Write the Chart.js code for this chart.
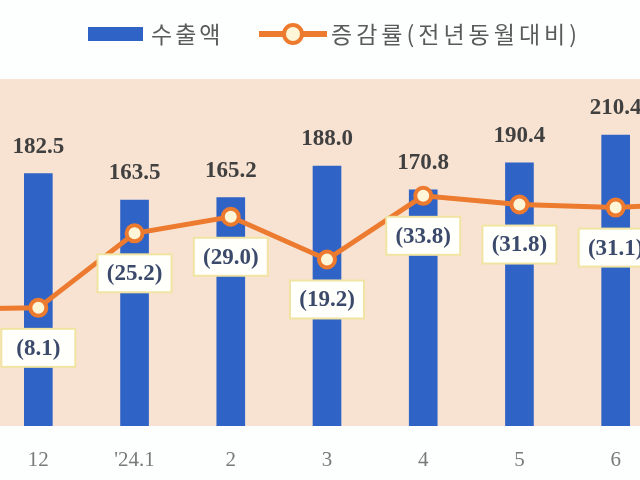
<!DOCTYPE html>
<html>
<head>
<meta charset="utf-8">
<script src="https://cdn.jsdelivr.net/npm/chart.js@4.4.1/dist/chart.umd.min.js"></script>
<style>
  html, body { margin: 0; padding: 0; background: #fcfffe; }
  #wrap { position: relative; width: 640px; height: 480px; overflow: hidden; }
  #chart { position: absolute; left: -106px; top: 0; }
  .lg { position: absolute; font-family: "Noto Sans CJK KR", sans-serif; color: #5a5a5a; font-size: 23px; line-height: 1; }
  .lg-bar { position: absolute; left: 88px; top: 27px; width: 55px; height: 14px; background: #2f63c6; }
  .lg-line { position: absolute; left: 259px; top: 31px; width: 68px; height: 6px; background: #ec7a2f; }
  .lg-dot { position: absolute; left: 282px; top: 23px; width: 14px; height: 14px; border: 4px solid #ec7a2f; border-radius: 50%; background: #fff6d8; }
</style>
</head>
<body>
<div id="wrap">
  <canvas id="chart" width="866" height="480"></canvas>
  <div class="lg-bar"></div>
  <div class="lg" style="left:151px; top:22px; letter-spacing:3px;">수출액</div>
  <div class="lg-line"></div>
  <div class="lg-dot"></div>
  <div class="lg" style="left:331px; top:22px; letter-spacing:4px;">증감률(전년동월대비)</div>
</div>
<script>
// Monthly exports and year-on-year change
// (first and last months sit just outside the visible frame)
const months = ['11', '12', "'24.1", '2', '3', '4', '5', '6', '7'];
const exportValues = [null, 182.5, 163.5, 165.2, 188.0, 170.8, 190.4, 210.4, null];
const growthRates = [7.8, 8.1, 25.2, 29.0, 19.2, 33.8, 31.8, 31.1, 32.2];

const blue = '#2f63c6';
const orange = '#ec7a2f';
const peach = '#f8e3d2';

// peach plot background, full canvas width
const plotBg = {
  id: 'plotBg',
  beforeDraw(chart) {
    const { ctx, chartArea } = chart;
    ctx.save();
    ctx.fillStyle = peach;
    ctx.fillRect(0, chartArea.top, chart.width, chartArea.bottom - chartArea.top);
    ctx.restore();
  }
};

// value labels: numbers above bars, boxed rates under points
const valueLabels = {
  id: 'valueLabels',
  afterDatasetsDraw(chart) {
    const ctx = chart.ctx;
    ctx.save();
    ctx.textAlign = 'center';
    ctx.textBaseline = 'middle';

    chart.getDatasetMeta(1).data.forEach((el, i) => {
      if (exportValues[i] == null) return;
      ctx.font = 'bold 23px "Liberation Serif"';
      ctx.fillStyle = '#404040';
      ctx.fillText(exportValues[i].toFixed(1), el.x, el.y - 27);
    });

    chart.getDatasetMeta(0).data.forEach((el, i) => {
      const cy = el.y + 40;
      ctx.fillStyle = '#fffffc';
      ctx.strokeStyle = '#f1e4a2';
      ctx.lineWidth = 2;
      ctx.fillRect(el.x - 37, cy - 19, 74, 38);
      ctx.strokeRect(el.x - 37, cy - 19, 74, 38);
      ctx.font = 'bold 23px "Liberation Serif"';
      ctx.fillStyle = '#3b4a6b';
      ctx.fillText('(' + growthRates[i].toFixed(1) + ')', el.x, cy + 1);
    });
    ctx.restore();
  }
};

new Chart(document.getElementById('chart'), {
  type: 'bar',
  data: {
    labels: months,
    datasets: [{
      type: 'line',
      label: '증감률(전년동월대비)',
      data: growthRates,
      yAxisID: 'y2',
      borderColor: orange,
      borderWidth: 5,
      pointRadius: 8,
      pointBorderWidth: 4,
      pointBackgroundColor: '#fff6d8',
      pointBorderColor: orange,
      tension: 0,
      order: 0
    }, {
      label: '수출액',
      data: exportValues,
      yAxisID: 'y',
      backgroundColor: blue,
      barThickness: 28,
      order: 1
    }]
  },
  options: {
    responsive: false,
    animation: false,
    layout: { autoPadding: false, padding: { top: 79, bottom: 0, left: 0, right: 0 } },
    plugins: { legend: { display: false }, tooltip: { enabled: false } },
    scales: {
      x: {
        grid: { display: false, drawTicks: false, tickLength: 0 },
        border: { display: false },
        ticks: {
          color: '#7a7a7a',
          font: { family: 'Liberation Serif', size: 21 },
          padding: 22,
          maxRotation: 0,
          autoSkip: false
        },
        afterFit(scale) { scale.height = 54; }
      },
      y: { display: false, min: 0, max: 251 },
      y2: { display: false, min: -19, max: 60.6 }
    }
  },
  plugins: [plotBg, valueLabels]
});
</script>
</body>
</html>
